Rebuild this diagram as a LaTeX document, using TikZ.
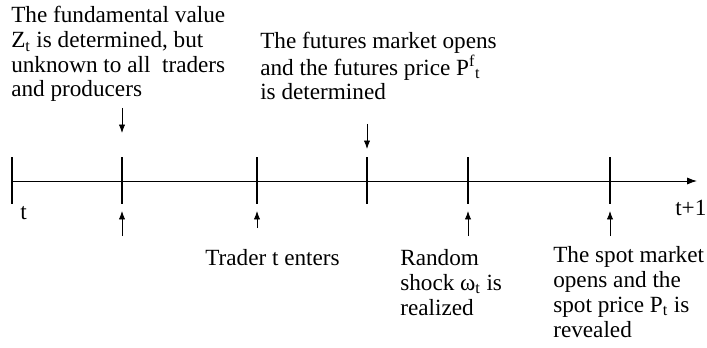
\documentclass[tikz,border=0pt]{standalone}
\usepackage{fontspec}
\setmainfont{Liberation Serif}
\usetikzlibrary{arrows.meta}
\tikzset{
  txt/.style={anchor=base west,align=left,inner sep=0pt,font=\fontsize{16.5}{17.6}\selectfont},
  mark arrow/.style={-{Latex[length=6pt,width=4.5pt]},line width=0.6pt}
}

\begin{document}
\begin{tikzpicture}[x=0.025cm,y=-0.025cm]
\useasboundingbox (0,0) rectangle (707,347);
% time axis
\coordinate (ax0) at (12,181);
\coordinate (ax1) at (697,181);
\draw[-{Latex[length=7pt,width=5pt]},line width=0.7pt] (ax0) -- (ax1);
\foreach \n/\x in {k0/12,k1/122,k2/257,k3/367,k4/468,k5/610} {
  \draw[line width=1.3pt] (\x,157) -- (\x,204);
}
\node[txt] (lt) at (20,219) {t};
\node[txt] (lt1) at (675,215) {t+1};

% events above the axis (base = last line)
\node[txt] (zval) at (11,97) {The fundamental value\\
Z\textsubscript{t} is determined, but\\
unknown to all\ \ traders\\
and producers};
\node[txt] (fut) at (260,100) {The futures market opens\\
and the futures price P\textsuperscript{f}\textsubscript{t}\\
is determined};
\coordinate (a1s) at (122,108);
\coordinate (a1e) at (122,133);
\draw[mark arrow] (a1s) -- (a1e);
\coordinate (a3s) at (367,124);
\coordinate (a3e) at (367,149);
\draw[mark arrow] (a3s) -- (a3e);

% events below the axis
\node[txt] (trader) at (205,265) {Trader t enters};
\node[txt] (shock) at (400,315) {Random\\
shock ω\textsubscript{t} is\\
realized};
\node[txt] (spot) at (553,337) {The spot market\\
opens and the\\
spot price P\textsubscript{t} is\\
revealed};
\foreach \n/\x/\y in {b1/122/236,b2/257/228,b4/468/236,b5/610/236} {
  \coordinate (\n s) at (\x,\y);
  \coordinate (\n e) at (\x,211);
  \draw[mark arrow] (\n s) -- (\n e);
}
\end{tikzpicture}
\end{document}
